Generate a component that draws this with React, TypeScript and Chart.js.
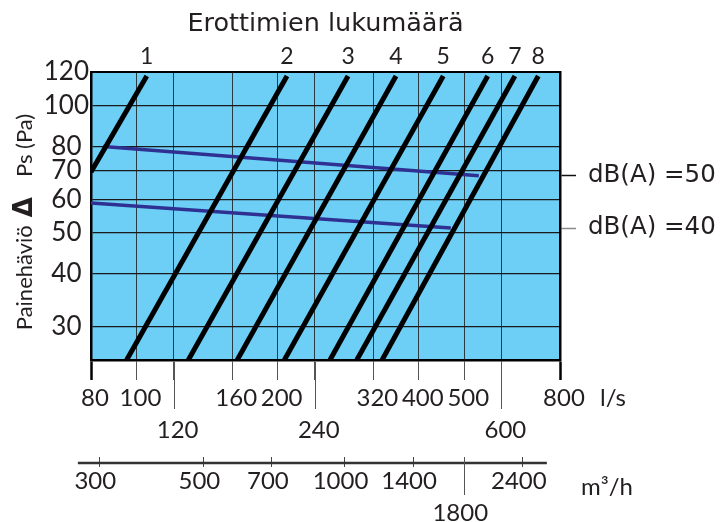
import React, { useEffect, useRef } from 'react';
import { Chart, registerables } from 'chart.js';

Chart.register(...registerables);

// ---- Data ----
const flowTicksLs = [80, 100, 120, 160, 200, 240, 320, 400, 500, 600, 800];
const flowTicksLsLower = [120, 240, 600];
const flowTicksM3h = [300, 500, 700, 1000, 1400, 1800, 2400];
const flowTicksM3hLower = [1800];
const pressureTicks = [30, 40, 50, 60, 70, 80, 100, 120];

const separatorLabels = ['1', '2', '3', '4', '5', '6', '7', '8'];
const separatorFlowLow = [80, 95.3, 129, 164, 206.7, 258.6, 295, 334];
const separatorPressureLow = [69.6, 25, 25, 25, 25, 25, 25, 25];
const separatorFlowHigh = [105.2, 209.4, 282.6, 357.6, 451, 561, 641, 719];
const separatorPressureHigh = [117.4, 117.4, 117.4, 117.4, 117.4, 117.4, 117.4, 117.4];

const noiseLabels = ['dB(A) =50', 'dB(A) =40'];
const noiseFlowStart = [85, 80];
const noisePressureStart = [80, 58.8];
const noiseFlowEnd = [537, 468];
const noisePressureEnd = [68.2, 51.3];

const FLOW_MIN = 80;
const FLOW_MAX = 800;
const P_MIN = 25;
const P_MAX = 120;
const LS_TO_M3H = 3.6;
const M3H_LINE_FROM = 270;
const M3H_LINE_TO = 2700;

// ---- Styles ----
const TEXT = '#231f20';
const PLOT_BG = '#6dcff6';
const GRID_V = '#2a3a40';
const GRID_H = '#1a1a1a';
const SEP_COLOR = '#000000';
const NOISE_COLOR = '#2e3192';
const NOISE_TICK_COLORS = ['#111111', '#8a8a8a'];

const decorPlugin = {
  id: 'decor',
  beforeDraw(chart: any) {
    const { ctx, chartArea: a } = chart;
    ctx.save();
    ctx.fillStyle = PLOT_BG;
    ctx.fillRect(a.left, a.top, a.right - a.left, a.bottom - a.top);
    ctx.restore();
  },
  afterDraw(chart: any) {
    const { ctx, chartArea: a, scales } = chart;
    const xs = scales.x;
    const x2 = scales.x2;
    ctx.save();
    // longer ticks for the lower label row (l/s)
    ctx.strokeStyle = '#555';
    ctx.lineWidth = 1;
    flowTicksLsLower.forEach((v) => {
      const px = Math.round(xs.getPixelForValue(v)) + 0.5;
      ctx.beginPath();
      ctx.moveTo(px, a.bottom + 2);
      ctx.lineTo(px, a.bottom + 49);
      ctx.stroke();
    });
    // m3/h axis line
    const ly = x2.top + 6;
    ctx.strokeStyle = '#333';
    ctx.lineWidth = 2.5;
    ctx.beginPath();
    ctx.moveTo(x2.getPixelForValue(M3H_LINE_FROM), ly);
    ctx.lineTo(x2.getPixelForValue(M3H_LINE_TO), ly);
    ctx.stroke();
    ctx.strokeStyle = '#555';
    ctx.lineWidth = 1;
    flowTicksM3hLower.forEach((v) => {
      const px = Math.round(x2.getPixelForValue(v)) + 0.5;
      ctx.beginPath();
      ctx.moveTo(px, x2.top);
      ctx.lineTo(px, x2.top + 38);
      ctx.stroke();
    });
    // units
    ctx.fillStyle = TEXT;
    ctx.font = '24px Lato';
    ctx.textBaseline = 'middle';
    ctx.textAlign = 'left';
    ctx.fillText('l/s', a.right + 40, a.bottom + 38);
    ctx.fillText('m³/h', a.right + 21, x2.top + 30);

    // rotated y-axis title with bold delta
    const parts: [string, string, number][] = [
      ['Painehäviö', '22px Lato', 8],
      ['Δ', 'bold 26px "DejaVu Sans"', 20],
      ['Ps (Pa)', '22px Lato', 0],
    ];
    let total = 0;
    const widths = parts.map(([t, f, g]) => {
      ctx.font = f;
      const w = ctx.measureText(t).width;
      total += w + g;
      return w;
    });
    ctx.translate(32, (a.top + a.bottom) / 2 + 6);
    ctx.rotate(-Math.PI / 2);
    ctx.textBaseline = 'alphabetic';
    let pos = -total / 2;
    parts.forEach(([t, f, g], i) => {
      ctx.font = f;
      ctx.fillText(t, pos, 0);
      pos += widths[i] + g;
    });
    ctx.restore();
  },
};

const isEnd = (v: any) => v === FLOW_MIN || v === FLOW_MAX;

function buildConfig(): any {
  const datasets: any[] = [
    ...separatorLabels.map((lab, i) => ({
      label: 'Erottimia ' + lab,
      data: [
        { x: separatorFlowLow[i], y: separatorPressureLow[i] },
        { x: separatorFlowHigh[i], y: separatorPressureHigh[i] },
      ],
      showLine: true,
      borderColor: SEP_COLOR,
      borderWidth: 5,
      borderCapStyle: 'butt',
      pointRadius: 0,
      order: 0,
    })),
    ...noiseLabels.map((lab, i) => ({
      label: lab,
      data: [
        { x: noiseFlowStart[i], y: noisePressureStart[i] },
        { x: noiseFlowEnd[i], y: noisePressureEnd[i] },
      ],
      showLine: true,
      borderColor: NOISE_COLOR,
      borderWidth: 3.5,
      pointRadius: 0,
      order: 1,
    })),
  ];

  return {
    type: 'scatter',
    data: { datasets },
    plugins: [decorPlugin],
    options: {
      responsive: false,
      maintainAspectRatio: false,
      animation: false,
      layout: { padding: 0 },
      plugins: { legend: { display: false }, tooltip: { enabled: false } },
      scales: {
        x: {
          type: 'logarithmic',
          position: 'bottom',
          weight: 1,
          min: FLOW_MIN,
          max: FLOW_MAX,
          afterBuildTicks: (s: any) => {
            s.ticks = flowTicksLs.map((v) => ({ value: v }));
          },
          afterFit: (s: any) => {
            s.height = 97;
          },
          grid: {
            color: GRID_V,
            lineWidth: 1,
            tickLength: 20,
            tickColor: (c: any) => (isEnd(c.tick && c.tick.value) ? '#000' : '#555'),
            tickWidth: (c: any) => (isEnd(c.tick && c.tick.value) ? 2.5 : 1),
          },
          border: { display: true, color: '#000', width: 2.5 },
          ticks: {
            autoSkip: false,
            maxRotation: 0,
            minRotation: 0,
            padding: 2,
            labelOffset: 4,
            color: TEXT,
            font: { family: 'Lato', size: 24, lineHeight: 1.35 },
            callback: (v: any) => (flowTicksLsLower.includes(v) ? ['', String(v)] : String(v)),
          },
        },
        x2: {
          type: 'logarithmic',
          position: 'bottom',
          weight: 2,
          min: FLOW_MIN * LS_TO_M3H,
          max: FLOW_MAX * LS_TO_M3H,
          afterBuildTicks: (s: any) => {
            s.ticks = flowTicksM3h.map((v) => ({ value: v }));
          },
          afterFit: (s: any) => {
            s.height = 65;
          },
          grid: {
            display: true,
            drawOnChartArea: false,
            drawTicks: true,
            tickLength: 10,
            tickColor: '#444',
            tickWidth: 1,
          },
          border: { display: false },
          ticks: {
            autoSkip: false,
            maxRotation: 0,
            minRotation: 0,
            padding: -1,
            labelOffset: -4,
            color: TEXT,
            font: { family: 'Lato', size: 24, lineHeight: 1.3 },
            callback: (v: any) => (flowTicksM3hLower.includes(v) ? ['', String(v)] : String(v)),
          },
        },
        xTop: {
          type: 'logarithmic',
          position: 'top',
          min: FLOW_MIN,
          max: FLOW_MAX,
          afterBuildTicks: (s: any) => {
            s.ticks = separatorFlowHigh.map((v) => ({ value: v }));
          },
          afterFit: (s: any) => {
            s.height = 72;
          },
          grid: { display: true, drawOnChartArea: false, drawTicks: false },
          border: { display: true, color: '#000', width: 2 },
          ticks: {
            autoSkip: false,
            maxRotation: 0,
            minRotation: 0,
            padding: 2,
            color: TEXT,
            font: { family: 'Lato', size: 23 },
            callback: (_v: any, i: number) => separatorLabels[i],
          },
          title: {
            display: true,
            text: 'Erottimien lukumäärä',
            color: TEXT,
            font: { family: 'DejaVu Sans', size: 25.5 },
            padding: { top: 9, bottom: 0 },
          },
        },
        y: {
          type: 'logarithmic',
          position: 'left',
          min: P_MIN,
          max: P_MAX,
          afterBuildTicks: (s: any) => {
            s.ticks = pressureTicks.map((v) => ({ value: v }));
          },
          afterFit: (s: any) => {
            s.width = 91;
          },
          grid: { color: GRID_H, lineWidth: 1.3, drawTicks: false },
          border: { display: true, color: '#000', width: 2.5 },
          ticks: {
            autoSkip: false,
            crossAlign: 'center',
            padding: 2,
            color: TEXT,
            font: { family: 'Lato', size: 26 },
            callback: (v: any) => String(v),
          },
        },
        yR: {
          type: 'logarithmic',
          position: 'right',
          min: P_MIN,
          max: P_MAX,
          afterBuildTicks: (s: any) => {
            s.ticks = [...noisePressureEnd].sort((a, b) => a - b).map((v) => ({ value: v }));
          },
          afterFit: (s: any) => {
            s.width = 161;
          },
          grid: {
            display: true,
            drawOnChartArea: false,
            tickLength: 16,
            tickWidth: 1.5,
            tickColor: (c: any) => {
              const idx = noisePressureEnd.indexOf(c.tick && c.tick.value);
              return idx >= 0 ? NOISE_TICK_COLORS[idx] : '#000';
            },
          },
          border: { display: true, color: '#000', width: 2.5 },
          ticks: {
            autoSkip: false,
            padding: 12,
            color: TEXT,
            font: { family: 'DejaVu Sans', size: 24.5 },
            callback: (v: any) => noiseLabels[noisePressureEnd.indexOf(v)],
          },
        },
      },
    },
  };
}

export default function App() {
  const ref = useRef<HTMLCanvasElement>(null);
  useEffect(() => {
    if (!ref.current) return;
    const chart = new Chart(ref.current, buildConfig());
    return () => chart.destroy();
  }, []);
  return (
    <div style={{ position: 'fixed', left: 0, top: 0, width: 721, height: 522, background: '#fff' }}>
      <canvas ref={ref} width={721} height={522} style={{ display: 'block', width: 721, height: 522 }} />
    </div>
  );
}
